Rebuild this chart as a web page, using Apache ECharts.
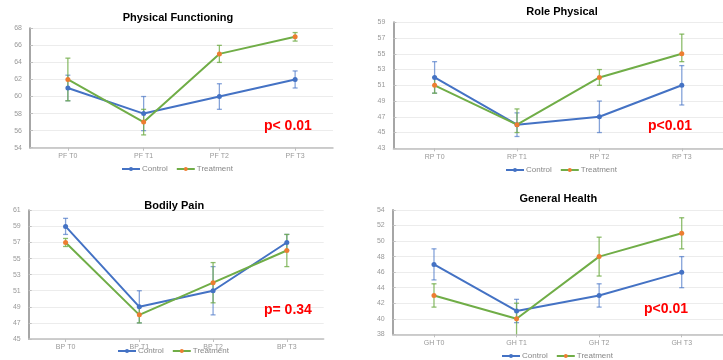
<!DOCTYPE html>
<html><head><meta charset="utf-8">
<script src="https://cdn.jsdelivr.net/npm/echarts@6/dist/echarts.min.js"></script>
<style>html,body{margin:0;padding:0;background:#fff}#c{width:723px;height:360px}</style>
</head><body><div id="c"></div><script>
// ---- Physical Functioning ----
var pfCategories = ['PF T0','PF T1','PF T2','PF T3'];
var pfControl = [61, 58, 60, 62];
var pfControlLow = [59.5, 56, 58.5, 61];
var pfControlHigh = [62.5, 60, 61.5, 63];
var pfTreatment = [62, 57, 65, 67];
var pfTreatmentLow = [59.5, 55.5, 64, 66.5];
var pfTreatmentHigh = [64.5, 58.5, 66, 67.5];
// ---- Role Physical ----
var rpCategories = ['RP T0','RP T1','RP T2','RP T3'];
var rpControl = [52, 46, 47, 51];
var rpControlLow = [50, 44.5, 45, 48.5];
var rpControlHigh = [54, 47.5, 49, 53.5];
var rpTreatment = [51, 46, 52, 55];
var rpTreatmentLow = [50, 45, 51, 54];
var rpTreatmentHigh = [52, 48, 53, 57.5];
// ---- Bodily Pain ----
var bpCategories = ['BP T0','BP T1','BP T2','BP T3'];
var bpControl = [59, 49, 51, 57];
var bpControlLow = [58, 47, 48, 56];
var bpControlHigh = [60, 51, 54, 58];
var bpTreatment = [57, 48, 52, 56];
var bpTreatmentLow = [56.5, 47, 49.5, 54];
var bpTreatmentHigh = [57.5, 49, 54.5, 58];
// ---- General Health ----
var ghCategories = ['GH T0','GH T1','GH T2','GH T3'];
var ghControl = [47, 41, 43, 46];
var ghControlLow = [45, 39.5, 41.5, 44];
var ghControlHigh = [49, 42.5, 44.5, 48];
var ghTreatment = [43, 40, 48, 51];
var ghTreatmentLow = [41.5, 37.5, 45.5, 49];
var ghTreatmentHigh = [44.5, 42, 50.5, 53];

var titles = ['Physical Functioning', 'Role Physical', 'Bodily Pain', 'General Health'];
var pValues = ['p< 0.01', 'p<0.01', 'p= 0.34', 'p<0.01'];
var seriesNames = ['Control', 'Treatment'];

var panels = [
  {cats: pfCategories, c: pfControl, cl: pfControlLow, ch: pfControlHigh, t: pfTreatment, tl: pfTreatmentLow, th: pfTreatmentHigh, min: 54, max: 68},
  {cats: rpCategories, c: rpControl, cl: rpControlLow, ch: rpControlHigh, t: rpTreatment, tl: rpTreatmentLow, th: rpTreatmentHigh, min: 43, max: 59},
  {cats: bpCategories, c: bpControl, cl: bpControlLow, ch: bpControlHigh, t: bpTreatment, tl: bpTreatmentLow, th: bpTreatmentHigh, min: 45, max: 61},
  {cats: ghCategories, c: ghControl, cl: ghControlLow, ch: ghControlHigh, t: ghTreatment, tl: ghTreatmentLow, th: ghTreatmentHigh, min: 38, max: 54}
];

// layout (pixels)
var grids = [
  {left: 30, top: 28.3, width: 303, height: 119.4},
  {left: 393.4, top: 22.3, width: 341, height: 126},
  {left: 28.7, top: 210.3, width: 295, height: 128.7},
  {left: 392.7, top: 210, width: 333, height: 124.3}
];
var titlePos = [[173, 14.3], [557, 8.3], [169.3, 202.3], [553.3, 195.7]];
var pPos = [[264, 126.7], [648, 126.7], [264, 310.7], [644, 310]];
var legendPos = [[121, 165], [505, 166], [117, 347], [501, 352]];

var BLUE = '#4472C4', GREEN = '#70AD47', ORANGE = '#ED7D31';

function errRender(color) {
  return function (params, api) {
    var x = api.value(0), lo = api.value(1), hi = api.value(2);
    var pLo = api.coord([x, lo]), pHi = api.coord([x, hi]);
    var cs = params.coordSys;
    var top = cs.y, bot = cs.y + cs.height;
    var yLo = Math.min(pLo[1], bot), yHi = Math.max(pHi[1], top);
    var cx = pLo[0], w = 2.5;
    var children = [{type: 'line', shape: {x1: cx, y1: yLo, x2: cx, y2: yHi}, style: {stroke: color, lineWidth: 1.3}}];
    if (pLo[1] <= bot) children.push({type: 'line', shape: {x1: cx - w, y1: pLo[1], x2: cx + w, y2: pLo[1]}, style: {stroke: color, lineWidth: 1.3}});
    if (pHi[1] >= top) children.push({type: 'line', shape: {x1: cx - w, y1: pHi[1], x2: cx + w, y2: pHi[1]}, style: {stroke: color, lineWidth: 1.3}});
    return {type: 'group', children: children};
  };
}

var option = {
  animation: false,
  backgroundColor: '#fff',
  title: [], legend: [], grid: [], xAxis: [], yAxis: [], series: [], graphic: []
};

panels.forEach(function (p, i) {
  option.grid.push(grids[i]);
  option.title.push({
    text: titles[i], left: titlePos[i][0], top: titlePos[i][1] - 7, textAlign: 'center',
    textStyle: {fontSize: 11, fontWeight: 'bold', color: '#000', fontFamily: 'Liberation Sans'}
  });
  option.legend.push({
    data: seriesNames, left: legendPos[i][0], top: legendPos[i][1], padding: 0,
    itemWidth: 18, itemHeight: 5, itemGap: 8,
    textStyle: {fontSize: 8, color: '#888', fontFamily: 'Liberation Sans', padding: [0, 0, 0, -3]}
  });
  option.xAxis.push({
    type: 'category', gridIndex: i, data: p.cats, boundaryGap: true,
    axisLine: {lineStyle: {color: '#bfbfbf', width: 1.5}},
    axisTick: {show: true, alignWithLabel: true, length: 3, lineStyle: {color: '#bfbfbf'}},
    axisLabel: {fontSize: 7, color: '#999', margin: 5, fontFamily: 'Liberation Sans'},
    splitLine: {show: false}
  });
  option.yAxis.push({
    type: 'value', gridIndex: i, min: p.min, max: p.max, interval: 2,
    axisLine: {show: true, lineStyle: {color: '#a6a6a6', width: 2}},
    axisTick: {show: true, inside: true, length: 3, lineStyle: {color: '#bfbfbf'}},
    axisLabel: {fontSize: 7, color: '#999', margin: 8, fontFamily: 'Liberation Sans'},
    splitLine: {lineStyle: {color: '#ececec', width: 1}}
  });
  var cErr = p.cats.map(function (_, k) { return [k, p.cl[k], p.ch[k]]; });
  var tErr = p.cats.map(function (_, k) { return [k, p.tl[k], p.th[k]]; });
  option.series.push({
    type: 'custom', xAxisIndex: i, yAxisIndex: i, data: cErr, z: 1,
    renderItem: errRender('rgba(68,114,196,0.65)'), encode: {x: 0, y: [1, 2]}
  });
  option.series.push({
    type: 'custom', xAxisIndex: i, yAxisIndex: i, data: tErr, z: 1,
    renderItem: errRender('rgba(112,173,71,0.8)'), encode: {x: 0, y: [1, 2]}
  });
  option.series.push({
    name: 'Control', type: 'line', xAxisIndex: i, yAxisIndex: i, data: p.c, z: 3,
    symbol: 'circle', symbolSize: 5,
    lineStyle: {color: BLUE, width: 2}, itemStyle: {color: BLUE}
  });
  option.series.push({
    name: 'Treatment', type: 'line', xAxisIndex: i, yAxisIndex: i, data: p.t, z: 4,
    symbol: 'circle', symbolSize: 5,
    lineStyle: {color: GREEN, width: 2}, itemStyle: {color: ORANGE}
  });
  option.graphic.push({
    type: 'text', left: pPos[i][0], top: pPos[i][1] - 8, z: 10,
    style: {text: pValues[i], fill: '#FF0000', font: 'bold 14px "Liberation Sans"'}
  });
});

var chart = echarts.init(document.getElementById('c'), null, {renderer: 'canvas'});
chart.setOption(option);
</script></body></html>
